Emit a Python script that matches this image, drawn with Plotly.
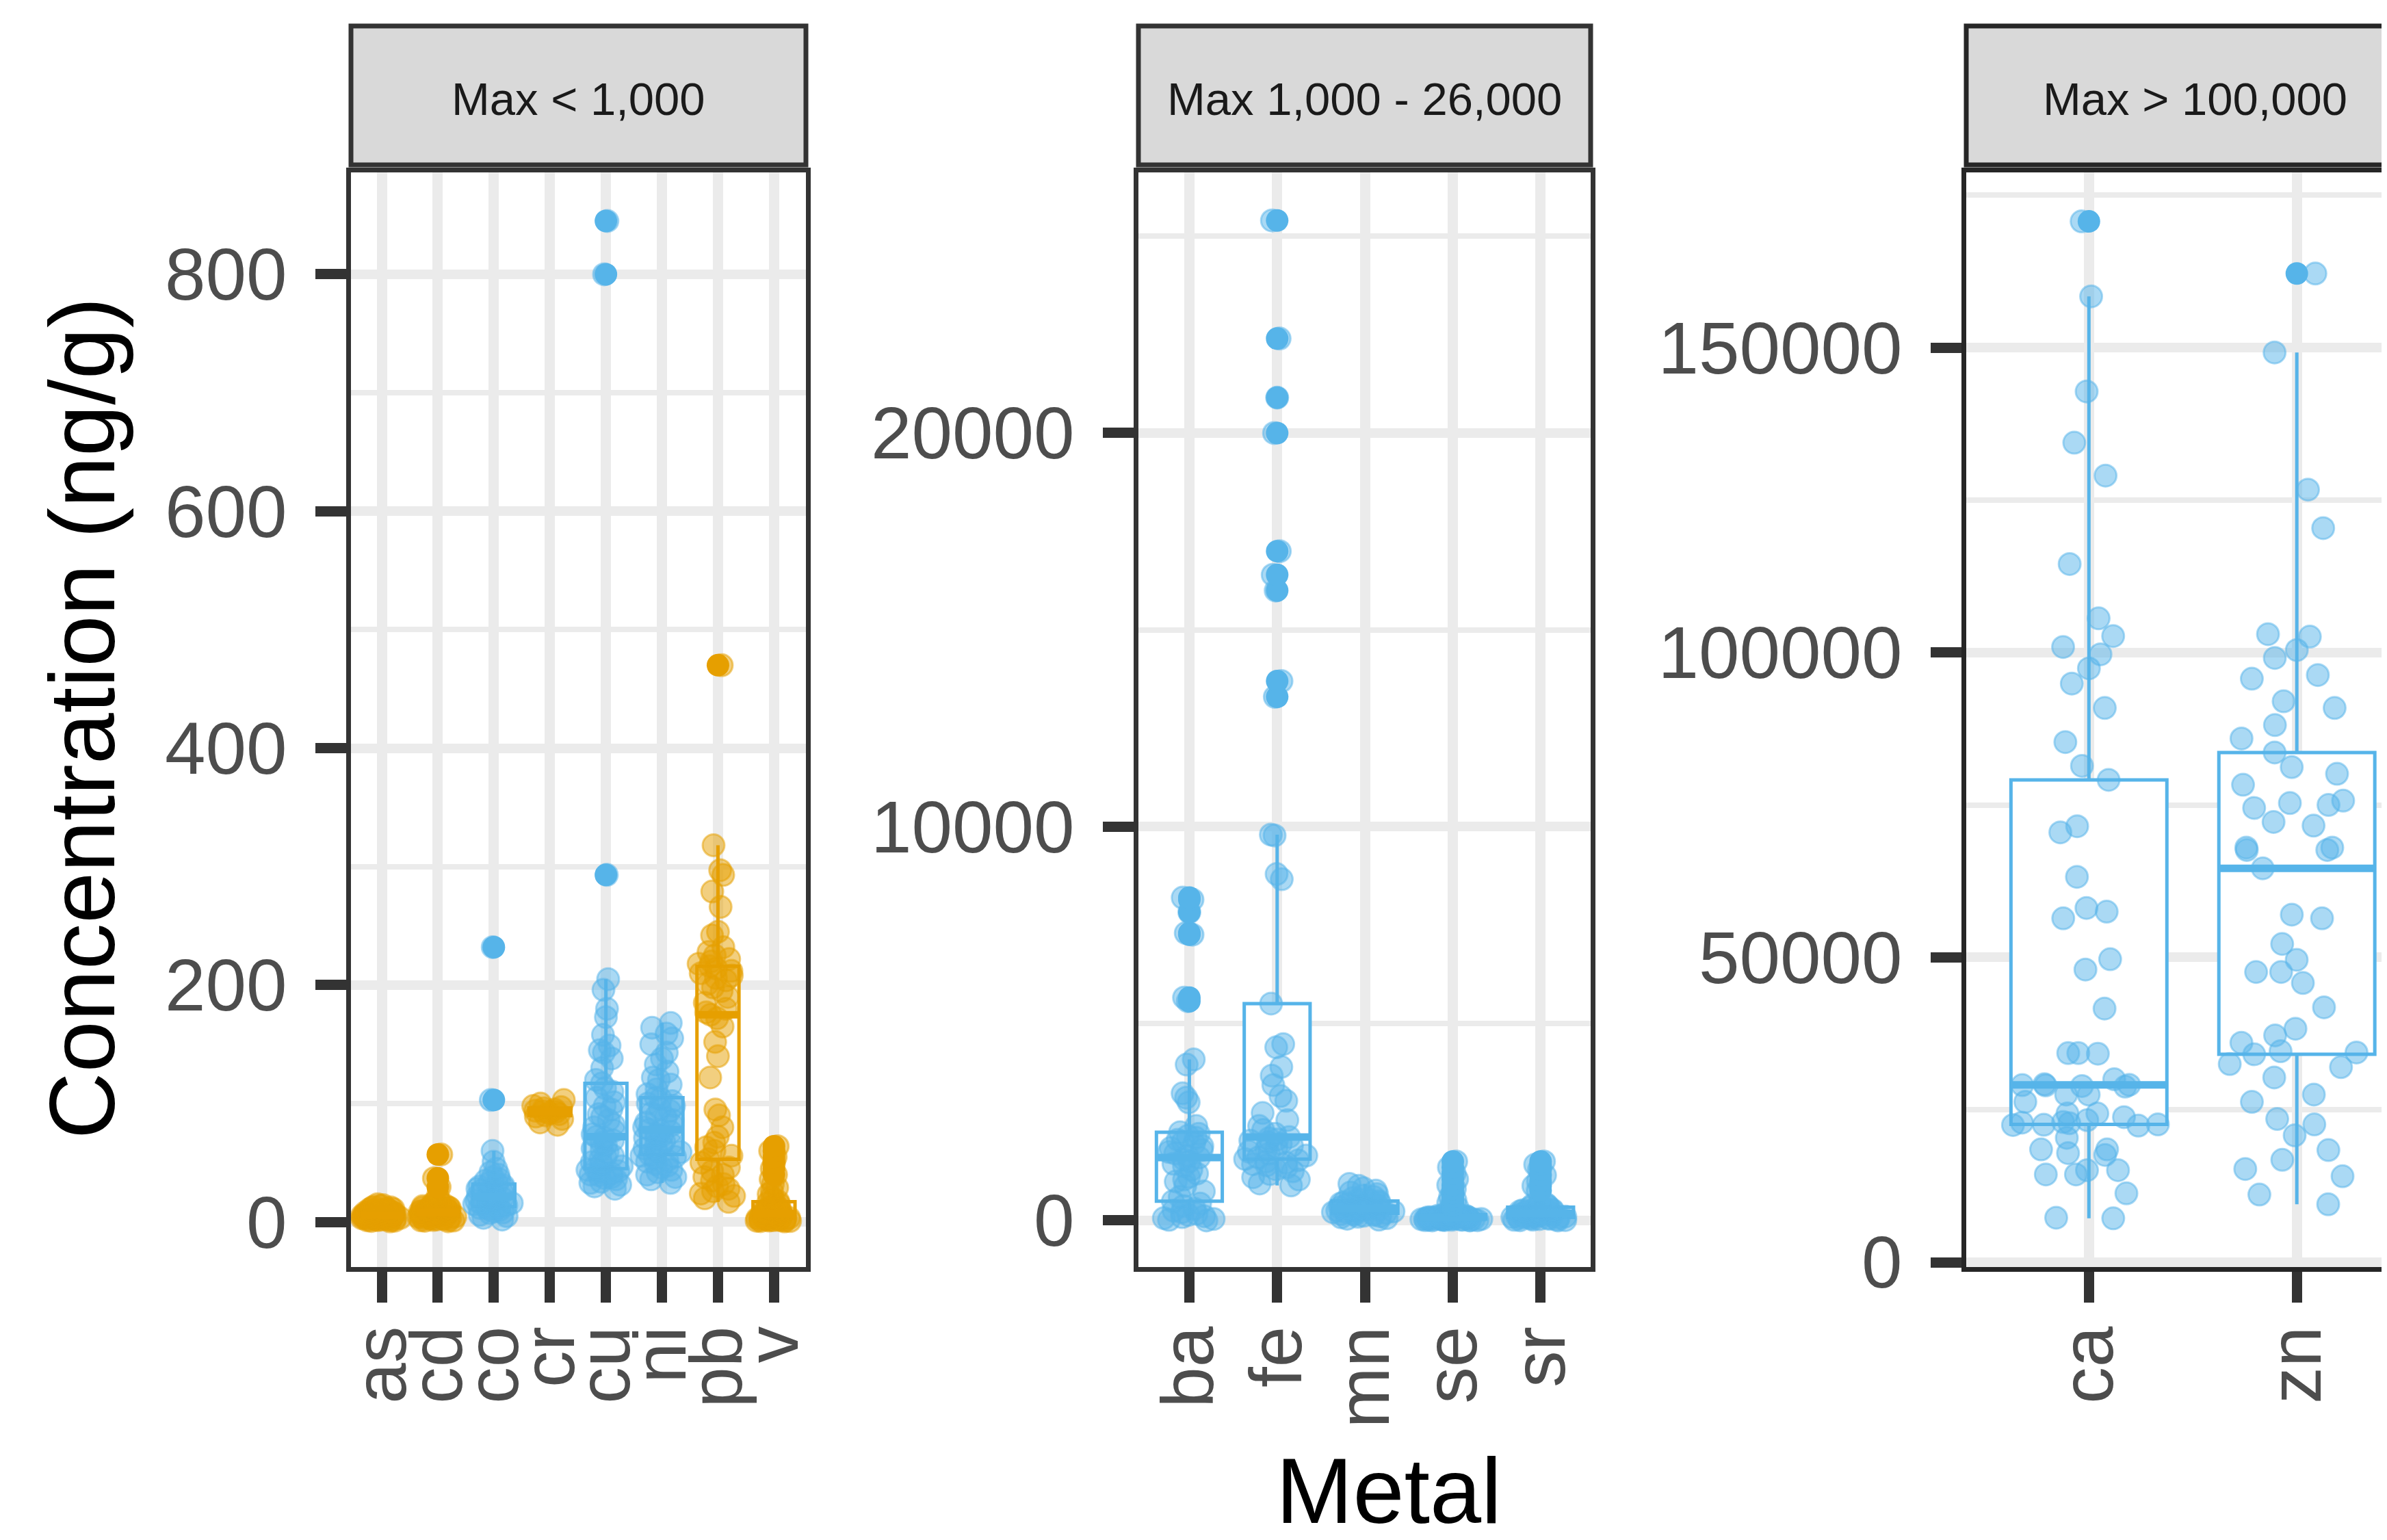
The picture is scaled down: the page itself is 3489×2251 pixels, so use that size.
import numpy as np
import plotly.graph_objects as go

# ---------------- data ----------------
facet_labels = ["Max < 1,000", "Max 1,000 - 26,000", "Max > 100,000"]
metals_p1 = ["as", "cd", "co", "cr", "cu", "ni", "pb", "v"]
metals_p2 = ["ba", "fe", "mn", "se", "sr"]
metals_p3 = ["ca", "zn"]
orange_metals = ["as", "cd", "cr", "pb", "v"]

conc_as = [0.5, 0.9, 1.1, 1.4, 1.6, 1.8, 2.0, 2.2, 2.3, 2.5, 2.7, 2.8, 3.0, 3.1, 3.3, 3.4, 3.6, 3.7,
           3.9, 4.0, 4.2, 4.3, 4.5, 4.6, 4.8, 4.9, 5.1, 5.2, 5.4, 5.5, 5.7, 5.8, 6.0, 6.2, 6.3, 6.5,
           6.7, 6.9, 7.0, 7.2, 7.4, 7.6, 7.8, 8.0, 8.2, 8.5, 8.7, 9.0, 9.3, 9.6, 9.9, 10.2, 10.6,
           11.0, 11.4, 11.9, 12.4, 13.0, 13.6, 14.3, 15.0]
conc_cd = [0.6, 1.0, 1.2, 1.4, 1.7, 2.0, 2.2, 2.5, 2.8, 3.0, 3.2, 3.5, 3.9, 4.2, 4.4, 4.6, 4.9, 5.3,
           5.6, 5.8, 6.0, 6.3, 6.7, 7.0, 7.2, 7.4, 7.7, 8.1, 8.4, 8.6, 9.0, 9.3, 9.6, 9.8, 10.2,
           10.5, 10.8, 11.1, 11.6, 12.0, 12.2, 12.5, 13.1, 13.4, 13.6, 14.2, 14.9, 15.5, 16.3, 17.0,
           22.0, 29.5, 37.0, 57.0]
conc_co = [2, 3.5, 5, 6, 7.5, 8, 9, 10, 11, 12, 12.5, 13, 14, 15, 15.5, 16, 17, 18, 18.5, 19, 20,
           21, 21.5, 22, 23, 24, 25, 26, 27, 28, 29, 30, 31, 32, 33, 35, 36, 38, 40, 42, 45, 51, 60,
           103, 232]
conc_cr = [82, 84, 87, 89, 90, 91, 92, 93, 93.5, 94, 95, 96, 97, 98, 100, 103]
conc_cu = [28, 30, 31.5, 33, 34, 36, 37, 38, 39.5, 40, 41, 42.5, 43, 44, 45, 47, 49, 50.5, 53, 55,
           56, 59, 61, 62, 65, 67, 69, 71, 72, 74, 77, 80, 82, 86, 89, 91, 95, 98, 101, 105, 110,
           113, 117, 120, 130, 138, 143, 145, 149, 158, 173, 180, 196, 205, 293, 800, 845]
conc_ni = [33, 36, 38, 40, 42, 44, 46, 47.5, 49, 51, 52, 54, 55, 56, 57, 59, 60, 62, 63, 65, 66, 68,
           70, 71, 73, 74, 76, 77, 78, 80, 82, 84, 86, 88, 90, 92, 94, 96, 98, 100, 102, 104, 105,
           108, 112, 116, 120, 122, 127, 133, 138, 143, 150, 155, 159, 164, 168]
conc_pb = [17, 20, 22, 24, 26, 28, 30, 32, 35, 38, 40, 43, 46, 50, 53, 56, 60, 63, 67, 72, 80, 90,
           95, 122, 140, 152, 165, 172, 175, 177, 180, 185, 190, 195, 198, 201, 204, 206, 208, 210,
           212, 214, 216, 218, 220, 222, 225, 228, 232, 242, 245, 266, 279, 293, 297, 318, 470]
conc_v = [0.5, 0.7, 0.8, 1.0, 1.2, 1.4, 1.5, 1.7, 1.9, 2.1, 2.3, 2.6, 2.8, 3.0, 3.3, 3.5, 3.7, 4.1,
          4.4, 4.6, 4.8, 5.2, 5.6, 5.8, 6.0, 6.5, 7.0, 7.4, 7.8, 8.0, 8.5, 9.1, 9.8, 10.4, 11.2,
          12.0, 12.9, 13.8, 15.0, 16.2, 17.5, 19.0, 21.0, 23.5, 26.0, 29.0, 32.0, 36.0, 40.0, 45.0,
          50.0, 55.0, 60.0, 64.0]

conc_ba = [0, 15, 40, 60, 85, 110, 140, 170, 210, 250, 300, 370, 430, 490, 600, 740, 880, 990, 1040,
           1110, 1190, 1290, 1380, 1440, 1500, 1560, 1600, 1650, 1700, 1740, 1790, 1840, 1890, 1950,
           2000, 2050, 2100, 2150, 2200, 2243, 2400, 3000, 3120, 3230, 3960, 4090, 5570, 5660, 7260,
           7300, 7830, 8150, 8200]
conc_fe = [890, 940, 1040, 1100, 1180, 1250, 1300, 1350, 1400, 1430, 1470, 1500, 1530, 1560, 1600,
           1650, 1700, 1750, 1800, 1850, 1900, 1950, 1990, 2030, 2060, 2090, 2120, 2200, 2300, 2400,
           2550, 2730, 3040, 3160, 3440, 3680, 3900, 4400, 4480, 5510, 8670, 8800, 9780, 9800, 13300,
           13700, 16000, 16400, 17000, 20000, 20900, 22400, 25400]
conc_mn = [20, 45, 60, 80, 95, 110, 120, 135, 150, 160, 170, 185, 195, 210, 220, 230, 245, 255, 270,
           280, 295, 305, 320, 335, 350, 365, 380, 400, 415, 430, 450, 470, 490, 510, 540, 570, 600,
           630, 670, 710, 760, 820, 880, 930]
conc_se = [0, 0, 5, 8, 10, 12, 15, 18, 20, 22, 25, 28, 30, 32, 35, 38, 40, 42, 45, 48, 50, 53, 55,
           58, 60, 63, 66, 70, 73, 76, 80, 84, 88, 92, 96, 100, 105, 110, 115, 120, 130, 140, 150,
           165, 180, 340, 380, 450, 520, 600, 700, 800, 900, 1050, 1200, 1350, 1500]
conc_sr = [0, 5, 10, 15, 20, 28, 35, 42, 50, 55, 62, 70, 78, 85, 92, 100, 108, 115, 122, 130, 140,
           150, 160, 170, 180, 190, 200, 210, 222, 235, 248, 260, 275, 290, 305, 320, 340, 360, 380,
           400, 420, 450, 760, 880, 1000, 1150, 1300, 1420, 1500]

conc_ca = [7200, 7300, 11300, 14400, 14400, 15100, 15100, 17600, 17900, 18500, 18500, 20400, 22400,
           22500, 22550, 22600, 22800, 22900, 23000, 23300, 23800, 24400, 24400, 26300, 27500, 27500,
           28800, 28900, 29000, 29050, 29100, 29200, 30000, 34200, 34300, 34300, 41600, 48000, 49700,
           56400, 57500, 58100, 63200, 70500, 71500, 79100, 81400, 85300, 90900, 94900, 97400, 99700,
           100900, 102700, 105600, 114500, 129000, 134400, 142800, 158400, 170700]
conc_zn = [9500, 11100, 14100, 15300, 16800, 18400, 20800, 22600, 23500, 26300, 27500, 30300, 32000,
           32500, 34100, 34400, 34600, 36000, 37200, 38300, 41800, 45800, 47600, 47600, 49600, 52200,
           56400, 57000, 64600, 67600, 67600, 68000, 68000, 71600, 72200, 74500, 75000, 75300, 75700,
           78300, 80100, 81200, 83600, 85900, 88100, 90900, 92000, 95700, 96300, 99100, 100400,
           102600, 103000, 120400, 126700, 149200, 162150]

conc = {"as": conc_as, "cd": conc_cd, "co": conc_co, "cr": conc_cr, "cu": conc_cu, "ni": conc_ni,
        "pb": conc_pb, "v": conc_v, "ba": conc_ba, "fe": conc_fe, "mn": conc_mn, "se": conc_se,
        "sr": conc_sr, "ca": conc_ca, "zn": conc_zn}
panels = [metals_p1, metals_p2, metals_p3]
y_ticks = [[0, 200, 400, 600, 800], [0, 10000, 20000], [0, 50000, 100000, 150000]]

# ---------------- styling / layout ----------------
W, H = 3489, 2251
OFF = 8  # page body margin offset (px) compensated below
FONT = "Liberation Sans, Arial, Helvetica, sans-serif"
BLUE, ORANGE = "#56B4E9", "#E69F00"
BLUE_A, ORANGE_A = "rgba(86,180,233,0.5)", "rgba(230,159,0,0.5)"
GRID = "#EBEBEB"
DARK = "#333333"

# positions below are on-screen pixels
panel_px_x = [(513, 1178), (1664, 2325), (2874, 3497)]
panel_px_y = (252, 1852)
strip_px_y = (38, 241)
x_ranges = [(0.45, 8.57), (0.42, 5.57), (0.41, 2.46)]
y_ranges = [(-38, 886), (-1182, 26620), (-785, 178730)]
minor_dt = [100, 5000, 25000]

def fx(p):
    return (p - OFF) / W

def fy(p):
    return 1 - (p - OFF) / H

fig = go.Figure()

for k, metals in enumerate(panels):
    xa = "x" if k == 0 else f"x{k+1}"
    ya = "y" if k == 0 else f"y{k+1}"
    for i, m in enumerate(metals, start=1):
        vals = np.array(conc[m], dtype=float)
        c = ORANGE if m in orange_metals else BLUE
        ca_ = ORANGE_A if m in orange_metals else BLUE_A
        # Tukey box statistics (type-7 quartiles, as in ggplot2)
        q1, med, q3 = np.percentile(vals, [25, 50, 75])
        iqr = q3 - q1
        lo, hi = q1 - 1.5 * iqr, q3 + 1.5 * iqr
        inside = vals[(vals >= lo) & (vals <= hi)]
        out = vals[(vals < lo) | (vals > hi)]
        # box + whiskers
        fig.add_trace(go.Box(
            x=[i], q1=[q1], median=[med], q3=[q3],
            lowerfence=[inside.min()], upperfence=[inside.max()],
            xaxis=xa, yaxis=ya, width=0.75, whiskerwidth=0, boxpoints=False,
            fillcolor="white", line=dict(color=c, width=5),
            showlegend=False, hoverinfo="skip", name=m))
        # jittered observations
        fig.add_trace(go.Box(
            x=[i] * len(vals), y=vals, xaxis=xa, yaxis=ya,
            boxpoints="all", jitter=1, pointpos=0, width=0.75, whiskerwidth=0,
            fillcolor="rgba(0,0,0,0)", line=dict(color="rgba(0,0,0,0)", width=0),
            marker=dict(color=ca_, size=32, line=dict(color=ca_, width=3)),
            showlegend=False, hoverinfo="y", name=m))
        # thick median
        fig.add_trace(go.Scatter(
            x=[i - 0.375, i + 0.375], y=[med, med], xaxis=xa, yaxis=ya, mode="lines",
            line=dict(color=c, width=11), showlegend=False, hoverinfo="skip"))
        # outliers
        if len(out):
            fig.add_trace(go.Scatter(
                x=[i] * len(out), y=out, xaxis=xa, yaxis=ya, mode="markers",
                marker=dict(color=c, size=33), showlegend=False, hoverinfo="y"))

layout = dict(width=W, height=H, margin=dict(l=0, r=0, t=0, b=0, autoexpand=False),
              paper_bgcolor="white", plot_bgcolor="white", boxmode="overlay",
              font=dict(family=FONT), shapes=[], annotations=[])

for k, metals in enumerate(panels):
    xkey = "xaxis" if k == 0 else f"xaxis{k+1}"
    ykey = "yaxis" if k == 0 else f"yaxis{k+1}"
    yanchor = "y" if k == 0 else f"y{k+1}"
    xanchor = "x" if k == 0 else f"x{k+1}"
    x0, x1 = panel_px_x[k]
    lc = "#262626" if k == 2 else DARK
    layout[xkey] = dict(
        domain=[fx(x0), min(1.0, fx(x1))], range=list(x_ranges[k]), anchor=yanchor,
        automargin=False,
        tickmode="array", tickvals=list(range(1, len(metals) + 1)), ticktext=metals,
        tickangle=-90, showgrid=True, gridcolor=GRID, gridwidth=15, zeroline=False,
        ticks="outside", ticklen=45, tickwidth=15, tickcolor=DARK,
        tickfont=dict(size=107, color="#4D4D4D", family=FONT), ticklabelstandoff=-8,
        showline=True, linecolor=lc, linewidth=7, mirror=True, fixedrange=True)
    layout[ykey] = dict(
        domain=[fy(panel_px_y[1]), fy(panel_px_y[0])], range=list(y_ranges[k]), anchor=xanchor,
        automargin=False, tickmode="array", tickvals=y_ticks[k], tickformat="d",
        showgrid=True, gridcolor=GRID, gridwidth=14, zeroline=False,
        minor=dict(dtick=minor_dt[k], tick0=0, showgrid=True, gridcolor=GRID, gridwidth=8, ticks=""),
        ticks="outside", ticklen=45, tickwidth=15, tickcolor=DARK,
        tickfont=dict(size=107, color="#4D4D4D", family=FONT), ticklabelstandoff=20,
        showline=True, linecolor=lc, linewidth=7, mirror=(k != 2), fixedrange=True)
    sx1 = 1.02 if k == 2 else fx(x1)
    layout["shapes"].append(dict(
        type="rect", xref="paper", yref="paper", x0=fx(x0), x1=sx1,
        y0=fy(strip_px_y[1]), y1=fy(strip_px_y[0]),
        fillcolor="#D9D9D9", line=dict(color=lc, width=7), layer="above"))
    cx = (x0 + (3543 if k == 2 else x1)) / 2
    layout["annotations"].append(dict(
        text=facet_labels[k], xref="paper", yref="paper", x=fx(cx), y=fy(145),
        xanchor="center", yanchor="middle", showarrow=False,
        font=dict(size=67, color="#1A1A1A", family=FONT)))

layout["annotations"].append(dict(
    text="Concentration (ng/g)", xref="paper", yref="paper", x=fx(120), y=fy(1050),
    xanchor="center", yanchor="middle", textangle=-90, showarrow=False,
    font=dict(size=135, color="black", family=FONT)))
layout["annotations"].append(dict(
    text="Metal", xref="paper", yref="paper", x=fx(2030), y=fy(2179),
    xanchor="center", yanchor="middle", showarrow=False,
    font=dict(size=135, color="black", family=FONT)))

fig.update_layout(**layout)
fig.write_html("out.html")
